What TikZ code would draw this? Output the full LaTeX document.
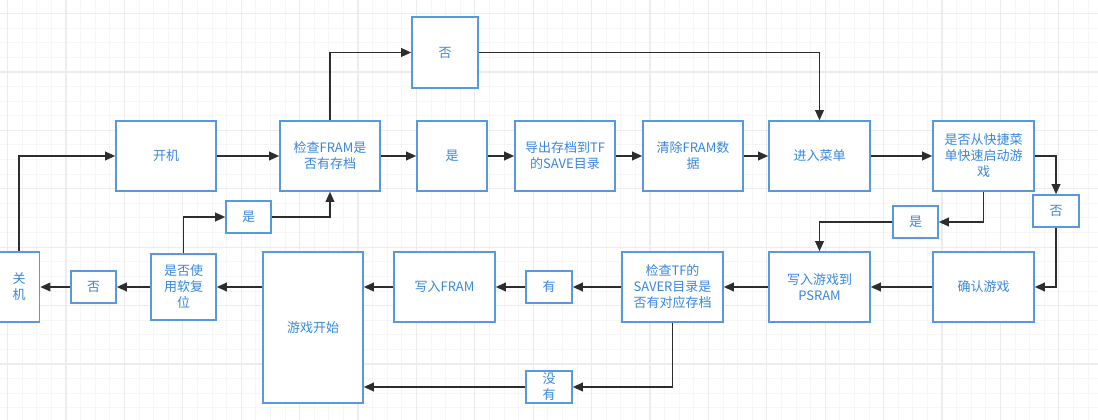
\documentclass[tikz,border=0pt]{standalone}
\usepackage{fontspec}
\setmainfont{Noto Sans CJK SC}
\usetikzlibrary{arrows.meta}
\definecolor{boxblue}{RGB}{88,152,222}
\definecolor{txtblue}{RGB}{55,135,222}
\definecolor{lineg}{RGB}{45,45,45}
\definecolor{gridminor}{RGB}{246,246,246}
\definecolor{gridmajor}{RGB}{236,236,236}
\tikzset{
  box/.style={draw=boxblue, line width=1.6pt*0.75, fill=white, text=txtblue,
    align=center, inner sep=0pt, font=\fontsize{9.75pt}{12pt}\selectfont},
  conn/.style={draw=lineg, line width=1.1pt,
    -{Triangle[length=7.5pt,width=6.5pt]}},
  gmin/.style={draw=gridminor, line width=0.75pt},
  gmaj/.style={draw=gridmajor, line width=1pt}
}
\begin{document}
\begin{tikzpicture}[x=0.75pt,y=-0.75pt]
\useasboundingbox (0,0) rectangle (1098,420);
\fill[white] (0,0) rectangle (1098,420);
% grid
\foreach \i in {0,...,75} {\draw[gmin] ({7.6+\i*14.6},0) -- ({7.6+\i*14.6},420);}
\foreach \i in {0,...,29} {\draw[gmin] (0,{-1+\i*14.6}) -- (1098,{-1+\i*14.6});}
\foreach \i in {0,...,19} {\draw[gmaj] ({7.6+\i*58.4},0) -- ({7.6+\i*58.4},420);}
\foreach \i in {0,...,7} {\draw[gmaj] (0,{13.6+\i*58.4}) -- (1098,{13.6+\i*58.4});}

% nodes
\node[box, minimum width=100*0.75pt, minimum height=70*0.75pt] (kaiji) at (166,156) {开机};
\node[box, minimum width=100*0.75pt, minimum height=70*0.75pt] (jiancha) at (330,156) {检查FRAM是\\否有存档};
\node[box, minimum width=70*0.75pt, minimum height=70*0.75pt] (shi1) at (452,156) {是};
\node[box, minimum width=100*0.75pt, minimum height=70*0.75pt] (daochu) at (565,156) {导出存档到TF\\的SAVE目录};
\node[box, minimum width=100*0.75pt, minimum height=70*0.75pt] (qingchu) at (693,156) {清除FRAM数\\据};
\node[box, minimum width=101*0.75pt, minimum height=70*0.75pt] (caidan) at (819.5,156) {进入菜单};
\node[box, minimum width=101*0.75pt, minimum height=70*0.75pt] (kuaijie) at (983.5,156) {是否从快捷菜\\单快速启动游\\戏};
\node[box, minimum width=66*0.75pt, minimum height=71*0.75pt] (foutop) at (445,52.5) {否};
\node[box, minimum width=46*0.75pt, minimum height=32*0.75pt] (four) at (1056,211) {否};
\node[box, minimum width=45*0.75pt, minimum height=32*0.75pt] (shir) at (915.5,222) {是};
\node[box, minimum width=101*0.75pt, minimum height=70*0.75pt] (queren) at (983.5,287) {确认游戏};
\node[box, minimum width=101*0.75pt, minimum height=70*0.75pt] (psram) at (819.5,287) {写入游戏到\\PSRAM};
\node[box, minimum width=101*0.75pt, minimum height=70*0.75pt] (jianchatf) at (672.5,287) {检查TF的\\SAVER目录是\\否有对应存档};
\node[box, minimum width=46*0.75pt, minimum height=32*0.75pt] (you) at (549,287) {有};
\node[box, minimum width=101*0.75pt, minimum height=70*0.75pt] (xieru) at (444.5,287) {写入FRAM};
\node[box, minimum width=100*0.75pt, minimum height=151*0.75pt] (youxi) at (313,327.5) {游戏开始};
\node[box, minimum width=46*0.75pt, minimum height=32*0.75pt] (meiyou) at (549,387) {没\\有};
\node[box, minimum width=65*0.75pt, minimum height=66*0.75pt] (ruan) at (183.5,287) {是否使\\用软复\\位};
\node[box, minimum width=45*0.75pt, minimum height=32*0.75pt] (foul) at (93.5,287) {否};
\node[box, minimum width=46*0.75pt, minimum height=70*0.75pt] (guanji) at (16.5,287) {\hspace*{4pt}关\\\hspace*{4pt}机};
\node[box, minimum width=45*0.75pt, minimum height=32*0.75pt] (shil) at (248.5,217) {是};

% connectors
\draw[conn] (guanji.north) ++(2.5,0) |- (kaiji.west);
\draw[conn] (kaiji) -- (jiancha);
\draw[conn] (jiancha.north) |- (foutop.west);
\draw[conn] (foutop.east) -| (caidan.north);
\draw[conn] (jiancha) -- (shi1);
\draw[conn] (shi1) -- (daochu);
\draw[conn] (daochu) -- (qingchu);
\draw[conn] (qingchu) -- (caidan);
\draw[conn] (caidan) -- (kuaijie);
\draw[conn] (kuaijie.east) -| (four.north);
\draw[conn] (four.south) |- (queren.east);
\draw[conn] (kuaijie.south) |- (shir.east);
\draw[conn] (shir.west) -| (psram.north);
\draw[conn] (queren) -- (psram);
\draw[conn] (psram) -- (jianchatf);
\draw[conn] (jianchatf) -- (you);
\draw[conn] (you) -- (xieru);
\draw[conn] (xieru.west) -- (xieru.west -| youxi.east);
\draw[conn] (jianchatf.south) |- (meiyou.east);
\draw[conn] (meiyou.west) -- (meiyou.west -| youxi.east);
\draw[conn] (youxi.west |- ruan.east) -- (ruan.east);
\draw[conn] (ruan) -- (foul);
\draw[conn] (foul) -- (guanji);
\draw[conn] (ruan.north) |- (shil.west);
\draw[conn] (shil.east) -| (jiancha.south);
\end{tikzpicture}
\end{document}
